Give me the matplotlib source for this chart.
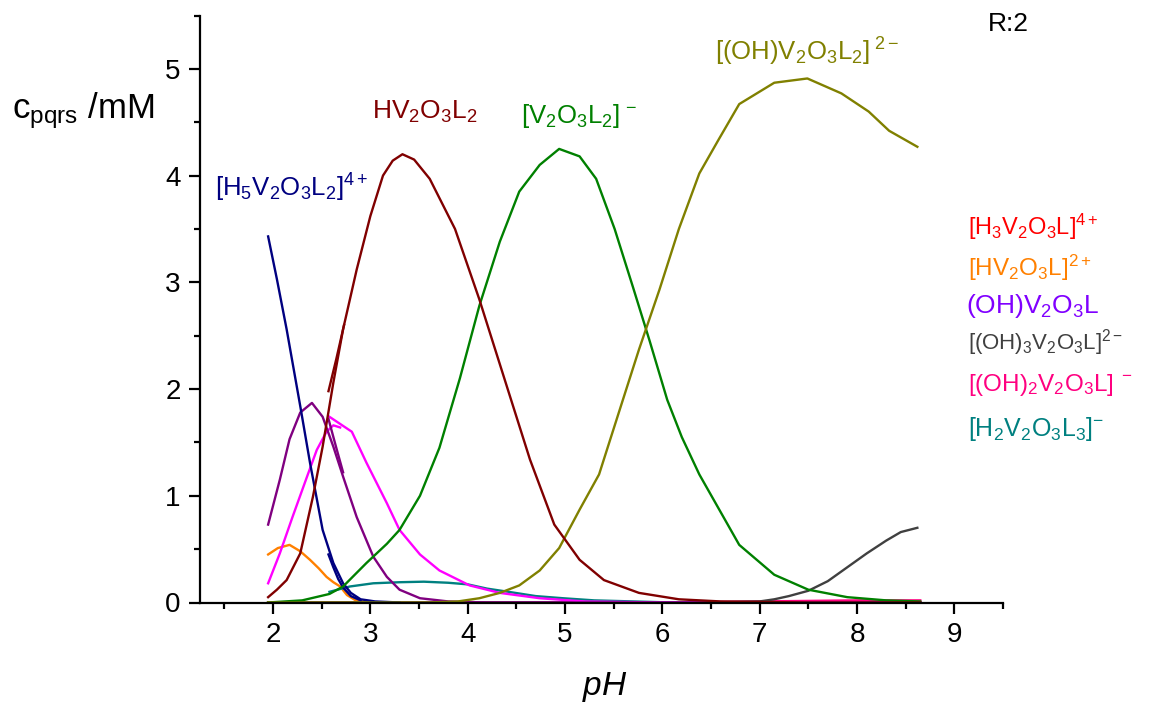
import numpy as np
import matplotlib.pyplot as plt
from matplotlib.ticker import MultipleLocator

plt.rcParams['font.family'] = ['Liberation Sans', 'DejaVu Sans']
plt.rcParams['mathtext.fontset'] = 'custom'
plt.rcParams['mathtext.rm'] = 'Liberation Sans'
plt.rcParams['mathtext.it'] = 'Liberation Sans:italic'
plt.rcParams['mathtext.bf'] = 'Liberation Sans:bold'

# species concentrations (mM) vs pH
ph_h5 = [1.95, 2.04, 2.14, 2.28, 2.38, 2.51, 2.62, 2.72, 2.80, 2.90, 3.05, 3.3]
c_h5 = [3.43, 3.03, 2.56, 1.84, 1.31, 0.68, 0.37, 0.18, 0.09, 0.03, 0.01, 0.0]
ph_h5b = [2.57, 2.62, 2.67, 2.72, 2.80, 2.90]
c_h5b = [0.45, 0.33, 0.22, 0.14, 0.06, 0.02]

ph_hv = [1.95, 2.04, 2.14, 2.28, 2.41, 2.51, 2.62, 2.72, 2.86, 3.0, 3.13, 3.23, 3.33,
         3.45, 3.61, 3.87, 4.12, 4.38, 4.64, 4.89, 5.15, 5.4, 5.76, 6.17, 6.6, 7.5, 8.65]
c_hv = [0.05, 0.12, 0.21, 0.46, 0.99, 1.46, 2.06, 2.56, 3.12, 3.62, 4.0, 4.14, 4.2,
        4.15, 3.97, 3.5, 2.84, 2.09, 1.34, 0.73, 0.4, 0.21, 0.09, 0.03, 0.01, 0.0, 0.0]
ph_hvb = [2.57, 2.65, 2.73]
c_hvb = [1.98, 2.28, 2.6]

ph_pu = [1.95, 2.07, 2.17, 2.28, 2.40, 2.51, 2.62, 2.72, 2.86, 3.03, 3.17, 3.3, 3.51, 3.8, 4.2, 8.65]
c_pu = [0.73, 1.15, 1.53, 1.78, 1.87, 1.74, 1.46, 1.18, 0.80, 0.43, 0.24, 0.12, 0.04, 0.01, 0.0, 0.0]
ph_pub = [2.57, 2.65, 2.72]
c_pub = [1.72, 1.45, 1.22]

ph_mg = [1.95, 2.07, 2.2, 2.35, 2.45, 2.55, 2.62, 2.69]
c_mg = [0.18, 0.46, 0.80, 1.18, 1.43, 1.6, 1.66, 1.64]
ph_mgb = [2.58, 2.81, 2.96, 3.17, 3.3, 3.51, 3.71, 4.02, 4.33, 4.74, 5.2, 6.0, 8.65]
c_mgb = [1.74, 1.60, 1.31, 0.93, 0.68, 0.45, 0.30, 0.16, 0.09, 0.04, 0.01, 0.0, 0.0]

ph_or = [1.95, 2.05, 2.17, 2.28, 2.38, 2.47, 2.55, 2.62, 2.69, 2.76, 2.85, 3.0]
c_or = [0.45, 0.51, 0.54, 0.48, 0.40, 0.32, 0.24, 0.19, 0.15, 0.07, 0.02, 0.0]

ph_te = [2.58, 2.79, 3.03, 3.3, 3.55, 3.8, 4.0, 4.2, 4.42, 4.7, 4.98, 5.3, 5.7, 6.1, 8.65]
c_te = [0.10, 0.15, 0.18, 0.19, 0.195, 0.185, 0.17, 0.13, 0.10, 0.06, 0.04, 0.02, 0.01, 0.0, 0.0]

ph_gr = [1.95, 2.3, 2.58, 2.72, 2.96, 3.17, 3.3, 3.51, 3.71, 3.92, 4.12, 4.33, 4.53, 4.74,
         4.94, 5.15, 5.32, 5.51, 5.7, 5.87, 6.05, 6.2, 6.38, 6.79, 7.15, 7.5, 7.9, 8.3, 8.65]
c_gr = [0.0, 0.02, 0.08, 0.15, 0.37, 0.55, 0.68, 1.0, 1.45, 2.1, 2.78, 3.38, 3.85, 4.1,
        4.25, 4.18, 3.97, 3.5, 2.95, 2.45, 1.9, 1.55, 1.2, 0.54, 0.26, 0.12, 0.05, 0.02, 0.01]

ph_ol = [1.95, 3.6, 3.9, 4.12, 4.33, 4.53, 4.74, 4.94, 5.15, 5.35, 5.56, 5.76, 5.97, 6.17,
         6.38, 6.58, 6.79, 7.15, 7.49, 7.84, 8.12, 8.33, 8.62]
c_ol = [0.0, 0.0, 0.01, 0.04, 0.09, 0.16, 0.3, 0.51, 0.87, 1.2, 1.8, 2.37, 2.93, 3.5,
        4.02, 4.34, 4.67, 4.87, 4.91, 4.77, 4.6, 4.42, 4.27]

ph_gy = [1.95, 6.5, 7.0, 7.15, 7.3, 7.5, 7.7, 7.9, 8.1, 8.3, 8.45, 8.62]
c_gy = [0.0, 0.0, 0.01, 0.03, 0.06, 0.11, 0.2, 0.33, 0.46, 0.58, 0.66, 0.70]

ph_zero = [1.95, 8.65]
c_red = [0.0, 0.0]
c_vio = [0.0, 0.0]
ph_pk = [1.95, 6.0, 7.0, 8.0, 8.65]
c_pk = [0.0, 0.0, 0.01, 0.02, 0.02]

fig = plt.figure(figsize=(11.54, 7.06), dpi=100)
ax = fig.add_axes([200/1154, 1 - 602.5/706, 803/1154, 587/706])

lw = 1.7
ax.plot(ph_zero, c_red, color='#FF0000', lw=lw)
ax.plot(ph_zero, c_vio, color='#8000FF', lw=lw)
ax.plot(ph_pk, c_pk, color='#FF0080', lw=lw)
ax.plot(ph_or, c_or, color='#FF8000', lw=lw)
ax.plot(ph_gy, c_gy, color='#404040', lw=lw)
ax.plot(ph_te, c_te, color='#008080', lw=lw)
ax.plot(ph_mg, c_mg, color='#FF00FF', lw=lw)
ax.plot(ph_mgb, c_mgb, color='#FF00FF', lw=lw)
ax.plot(ph_pu, c_pu, color='#800080', lw=lw)
ax.plot(ph_pub, c_pub, color='#800080', lw=lw)
ax.plot(ph_h5, c_h5, color='#000080', lw=lw)
ax.plot(ph_h5b, c_h5b, color='#000080', lw=lw)
ax.plot(ph_gr, c_gr, color='#008000', lw=lw)
ax.plot(ph_ol, c_ol, color='#808000', lw=lw)
ax.plot(ph_hv, c_hv, color='#800000', lw=lw)
ax.plot(ph_hvb, c_hvb, color='#800000', lw=lw)

ax.set_xlim(1.25, 9.5)
ax.set_ylim(0, 5.5)
ax.xaxis.set_major_locator(MultipleLocator(1))
ax.xaxis.set_minor_locator(MultipleLocator(0.5))
ax.yaxis.set_major_locator(MultipleLocator(1))
ax.yaxis.set_minor_locator(MultipleLocator(0.5))
for s in ['top', 'right']:
    ax.spines[s].set_visible(False)
for s in ['left', 'bottom']:
    ax.spines[s].set_linewidth(1.6)
ax.tick_params(which='major', direction='out', length=8, width=1.6, labelsize=20, pad=6)
ax.tick_params(which='minor', direction='out', length=4, width=1.6)
ax.set_xticks([2, 3, 4, 5, 6, 7, 8, 9])

fig.text(605/1154, 1 - 695/706, r'$\mathit{pH}$', fontsize=24, ha='center', va='baseline')
fig.text(12/1154, 1 - 118/706, r'$\mathrm{c_{pqrs}\ /mM}$', fontsize=25, ha='left', va='baseline')
fig.text(988/1154, 1 - 31/706, 'R:2', fontsize=19, ha='left', va='baseline')

fs = 18.5
fig.text(215/1154, 1 - 197/706, r'$\mathrm{[H_5V_2O_3L_2]^{4+}}$', color='#000080', fontsize=fs, va='baseline')
fig.text(372/1154, 1 - 119/706, r'$\mathrm{HV_2O_3L_2}$', color='#800000', fontsize=19, va='baseline')
fig.text(521/1154, 1 - 123/706, r'$\mathrm{[V_2O_3L_2]^{\,-}}$', color='#008000', fontsize=fs, va='baseline')
fig.text(715/1154, 1 - 61/706, r'$\mathrm{[(OH)V_2O_3L_2]^{\ 2-}}$', color='#808000', fontsize=fs, va='baseline')

fig.text(968/1154, 1 - 235/706, r'$\mathrm{[H_3V_2O_3L]^{4+}}$', color='#FF0000', fontsize=17, va='baseline')
fig.text(968/1154, 1 - 276/706, r'$\mathrm{[HV_2O_3L]^{2+}}$', color='#FF8000', fontsize=17.5, va='baseline')
fig.text(966/1154, 1 - 313/706, r'$\mathrm{(OH)V_2O_3L}$', color='#8000FF', fontsize=19, va='baseline')
fig.text(968/1154, 1 - 349/706, r'$\mathrm{[(OH)_3V_2O_3L]^{2-}}$', color='#404040', fontsize=16, va='baseline')
fig.text(968/1154, 1 - 391/706, r'$\mathrm{[(OH)_2V_2O_3L]^{\ -}}$', color='#FF0080', fontsize=17.5, va='baseline')
fig.text(968/1154, 1 - 436/706, r'$\mathrm{[H_2V_2O_3L_3]^{-}}$', color='#008080', fontsize=18, va='baseline')

fig.savefig('out.png', dpi=100)
